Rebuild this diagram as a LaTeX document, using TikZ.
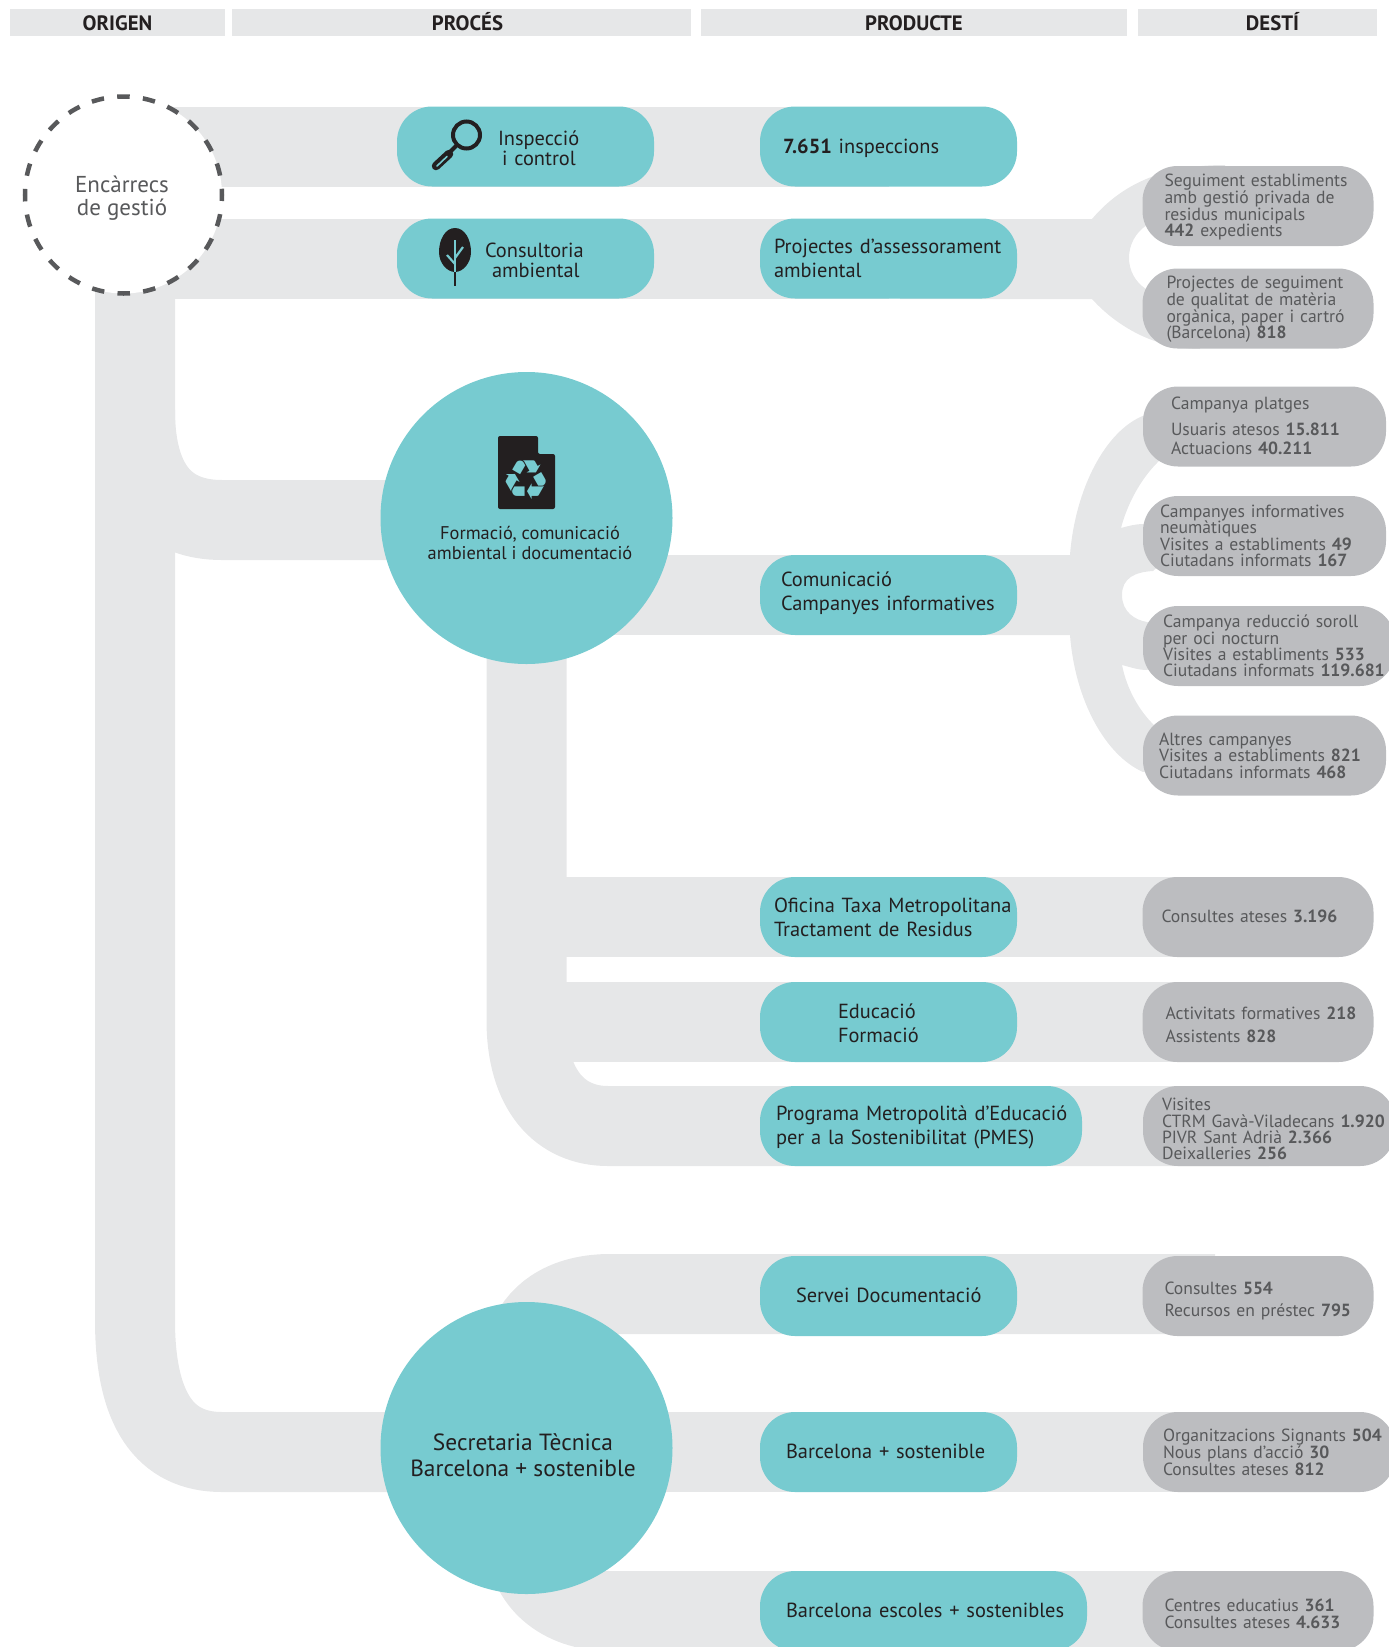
\documentclass[tikz,border=0pt]{standalone}
\usepackage{fontspec}
\setmainfont{PT Sans}
\newfontfamily\dejavu{DejaVu Sans}
\usetikzlibrary{backgrounds}
\definecolor{tealc}{HTML}{77CBD0}
\definecolor{bandc}{HTML}{E6E7E8}
\definecolor{greyc}{HTML}{BCBDC0}
\definecolor{darkc}{HTML}{231F20}
\definecolor{softc}{HTML}{58595B}

\begin{document}
\begin{tikzpicture}[x=1pt, y=-1pt,
  head/.style = {fill=bandc, text=darkc, minimum height=27pt, inner sep=0pt, text height=15pt, text depth=0pt, font=\fontsize{20.8}{22}\selectfont\bfseries},
  tealbox/.style = {fill=tealc, text=darkc, rectangle, rounded corners=35pt, minimum height=80pt, inner sep=0pt, font=\fontsize{20.4}{24}\selectfont},
  greybox/.style = {fill=greyc, text=softc, rectangle, rounded corners=35pt, minimum height=80pt, inner sep=0pt, font=\fontsize{17.6}{16.4}\selectfont},
  wide/.style 2 args = {text width=#1, align=left, execute at begin node={\leftskip=#2\relax}},
  main/.style = {fill=tealc, text=darkc, circle, minimum size=292pt, inner sep=0pt, align=center},
  band/.style = {draw=bandc, line width=80pt},
  tint/.style = {fill=bandc},
  ink/.style = {draw=darkc, line cap=round}]
\useasboundingbox (0,0) rectangle (1389,1647);
\clip (0,0) rectangle (1389,1647);

\node[head, minimum width=215pt] (h1) at (117.5,22.5) {ORIGEN};
\node[head, minimum width=459pt] (h2) [right of=h1, node distance=344pt] {\hspace*{12pt}PROCÉS};
\node[head, minimum width=426pt] (h3) [right of=h2, node distance=452.5pt] {PRODUCTE};
\node[head, minimum width=239pt] (h4) [right of=h3, node distance=343.5pt] {\hspace*{30pt}DESTÍ};

\node[circle, fill=white, draw=softc, line width=4.5pt, dash pattern=on 12.5pt off 13.3pt, dash phase=6.25pt, minimum size=197pt, align=center, text=softc, font=\fontsize{23}{22.5}\selectfont] (origen) at (123.5,195) {\mbox{}\\[0pt]\hspace*{-3pt}Encàrrecs\\\hspace*{-3pt}de gestió};

\node[tealbox, wide={257pt}{101pt}, text height=19pt] (insp) at (525.5,146.5) {Inspecció\\[-4pt]\hspace*{4pt}i control};
\node[tealbox, wide={257pt}{88pt}, text height=19pt] (consul) [below of=insp, node distance=112pt] {Consultoria\\[-4pt]\hspace*{7pt}ambiental};
\node[main, font=\fontsize{18.4}{20}\selectfont] (form) [below of=consul, node distance=259.5pt, xshift=1pt] {\mbox{}\\[44pt]\hspace*{7pt}Formació, comunicació\\\hspace*{7pt}ambiental i documentació};
\node[main, font=\fontsize{23.4}{26}\selectfont] (secr) [below of=form, node distance=930pt] {\mbox{}\\[5pt]\hspace*{-7pt}Secretaria Tècnica\\\hspace*{-7pt}Barcelona + sostenible};

\node[tealbox, wide={257pt}{23pt}, text height=19pt] (ins7) [right of=insp, node distance=363pt] {\textbf{7.651} inspeccions};
\node[tealbox, wide={257pt}{14pt}] (assess) [below of=ins7, node distance=112pt] {Projectes d’assessorament\\ambiental};
\node[tealbox, wide={257pt}{21pt}, text height=11pt] (comun) [below of=assess, node distance=336.5pt] {Comunicació\\Campanyes informatives};
\node[tealbox, wide={257pt}{14pt}, text height=15pt] (ofic) [below of=comun, node distance=322pt] {Oficina Taxa Metropolitana\\Tractament de Residus};
\node[tealbox, wide={257pt}{78pt}, text height=17pt] (educ) [below of=ofic, node distance=105pt] {Educació\\Formació};
\node[tealbox, wide={322pt}{16pt}, text height=17pt] (pmes) [below of=educ, node distance=104pt, xshift=32.5pt] {Programa Metropolità d’Educació\\per a la Sostenibilitat (PMES)};
\node[tealbox, wide={257pt}{36pt}, text height=13pt] (servei) [below of=educ, node distance=274pt] {Servei Documentació};
\node[tealbox, wide={257pt}{26pt}, text height=13pt] (barna) [below of=servei, node distance=156pt] {Barcelona + sostenible};
\node[tealbox, wide={327pt}{26pt}, text height=13pt] (escol) [below of=barna, node distance=159pt, xshift=35pt] {Barcelona escoles + sostenibles};

\node[greybox, wide={231pt}{22pt}, text height=14.8pt] (seg) [right of=assess, node distance=369.5pt, yshift=52.5pt] {Seguiment establiments\\amb gestió privada de\\residus municipals\\\textbf{442} expedients};
\node[greybox, wide={231pt}{24pt}, text height=13.8pt] (proj) [below of=seg, node distance=102.5pt] {Projectes de seguiment\\de qualitat de matèria\\orgànica, paper i cartró\\(Barcelona) \textbf{818}};
\node[greybox, wide={243pt}{28pt}, text height=11pt] (plat) [right of=comun, node distance=376pt, yshift=168.5pt] {Campanya platges\\[10pt]Usuaris atesos \textbf{15.811}\\[2pt]Actuacions \textbf{40.211}};
\node[greybox, wide={243pt}{17pt}] (neum) [below of=plat, node distance=109.5pt] {Campanyes informatives\\neumàtiques\\Visites a establiments \textbf{49}\\Ciutadans informats \textbf{167}};
\node[greybox, wide={252pt}{20pt}] (soroll) [below of=neum, node distance=110pt, xshift=4.5pt] {Campanya reducció soroll\\per oci nocturn\\Visites a establiments \textbf{533}\\Ciutadans informats \textbf{119.681}};
\node[greybox, wide={243pt}{16pt}] (altres) [below of=soroll, node distance=109.5pt, xshift=-4.5pt] {Altres campanyes\\Visites a establiments \textbf{821}\\Ciutadans informats \textbf{468}};
\node[greybox, wide={231pt}{19pt}, text height=11pt] (cons) [right of=ofic, node distance=369.5pt] {Consultes ateses \textbf{3.196}};
\node[greybox, wide={231pt}{23pt}, text height=18pt] (activ) [right of=educ, node distance=369.5pt] {Activitats formatives \textbf{218}\\[7pt]Assistents \textbf{828}};
\node[greybox, wide={252pt}{19pt}, text height=18.8pt] (visit) [right of=pmes, node distance=348pt] {Visites\\CTRM Gavà-Viladecans \textbf{1.920}\\PIVR Sant Adrià \textbf{2.366}\\Deixalleries \textbf{256}};
\node[greybox, wide={231pt}{22pt}, text height=22.8pt] (docu) [right of=servei, node distance=369.5pt] {Consultes \textbf{554}\\[6pt]Recursos en préstec \textbf{795}};
\node[greybox, wide={252pt}{20pt}] (signa) [right of=barna, node distance=380.5pt] {Organitzacions Signants \textbf{504}\\Nous plans d’acció \textbf{30}\\Consultes ateses \textbf{812}};
\node[greybox, wide={231pt}{22pt}, text height=17.8pt] (centr) [right of=escol, node distance=334.5pt] {Centres educatius \textbf{361}\\[1pt]Consultes ateses \textbf{4.633}};

\coordinate (trunk) at (135,195);
\coordinate (servend) at (1215,1294);

\begin{pgfonlayer}{background}
\draw[band] (insp.center -| origen.center) -- (ins7.center);
\draw[band] (consul.center -| origen.center) -- (assess.center);
\draw[band] (trunk) -- (135,1320) .. controls (135,1410) and (165,1452) .. (222,1452) -- (secr.center |- barna.center);
\draw[band] (135,410) .. controls (135,490) and (170,520) .. (222,520) -- (526.5,520);
\draw[band] (form.center |- comun.center) -- (comun.center);
\draw[band] (form.center) -- (526.5,1020) .. controls (526.5,1090) and (560,1126) .. (608,1126) -- (visit.center);
\draw[band] (form.center |- ofic.center) -- (cons.center);
\draw[band] (form.center |- educ.center) -- (activ.center);
\draw[band] (secr.center) -- (528,1340) .. controls (540,1310) and (570,1294) .. (610,1294) -- (servend);
\draw[band] (secr.center |- barna.center) -- (signa.center);
\draw[band] (secr.center) -- (526.5,1540) .. controls (526.5,1580) and (560,1611) .. (610,1611) -- (centr.center);

\fill[tint] (900,219) -- (1092,219) .. controls (1125,180) and (1170,165) .. (1225,165) -- (1225,215) -- (1147,225) .. controls (1135,233) and (1129,245) .. (1129,258) .. controls (1129,270) and (1135,282) .. (1146,289) -- (1200,300) -- (1200,349) .. controls (1160,349) and (1120,330) .. (1092,299) -- (900,299) -- cycle;
\fill[tint] (900,555) -- (1070,555) .. controls (1075,490) and (1105,430) .. (1145,415) -- (1200,415) -- (1157,463) .. controls (1140,480) and (1127,505) .. (1121,528) .. controls (1128,526) and (1136,524) .. (1143,524) -- (1200,530) -- (1153,571) .. controls (1135,572) and (1122,578) .. (1122,595) .. controls (1122,612) and (1135,620) .. (1147,622) -- (1200,640) -- (1147,670) .. controls (1138,670) and (1130,667) .. (1122,665) .. controls (1127,690) and (1140,712) .. (1155,726) -- (1200,760) -- (1143,772) .. controls (1105,755) and (1075,700) .. (1070,635) -- (900,635) -- cycle;
\end{pgfonlayer}

\draw[ink, line width=4pt] (466.5,135) circle (13.5pt);
\draw[ink, line width=4pt] (456,146) -- (450,152);
\draw[ink, line width=8.5pt] (449,154) -- (436,166);
\draw[tealc, line width=1.6pt, line cap=round] (447,156.5) -- (437,166);

\fill[darkc] (455,228) .. controls (465,228) and (471,240) .. (471,252) .. controls (471,263) and (463,272) .. (455,272) .. controls (447,272) and (439,263) .. (439,252) .. controls (439,240) and (445,228) .. (455,228) -- cycle;
\draw[darkc, line width=2.5pt] (455,270) -- (455,286);
\draw[tealc, line width=2.2pt] (455,240) -- (455,272);
\draw[tealc, line width=2.2pt] (455,258) -- (463,247);
\draw[tealc, line width=2.2pt] (455,264) -- (447,255);

\fill[darkc, rounded corners=2pt] (498,436) -- (538,436) -- (538,454) -- (555,454) -- (555,509) -- (498,509) -- cycle;
\node[text=tealc, font=\dejavu\fontsize{55}{55}\selectfont, inner sep=0pt] (recy) at (526,480) {♻};
\end{tikzpicture}
\end{document}
